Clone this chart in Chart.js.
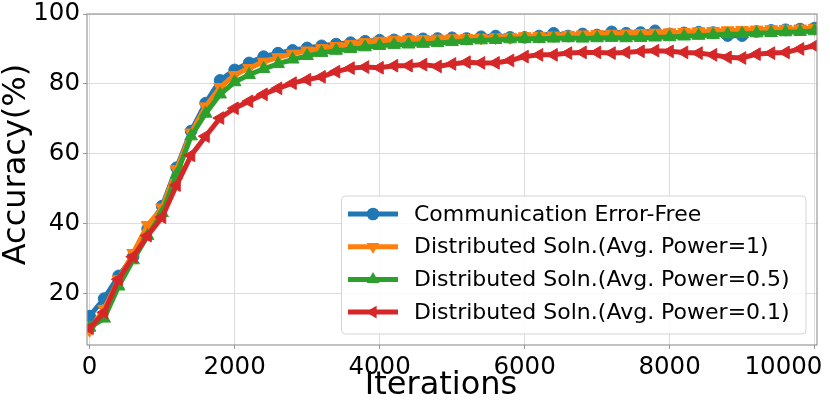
<!DOCTYPE html>
<html>
<head>
<meta charset="utf-8">
<script src="https://cdn.jsdelivr.net/npm/chart.js@4.4.0/dist/chart.umd.min.js"></script>
<style>
  html, body { margin: 0; padding: 0; background: #fff; }
  #wrap { width: 830px; height: 402px; }
</style>
</head>
<body>
<div id="wrap"><canvas id="chart" width="830" height="402"></canvas></div>
<script>
// values
const iterations = [0, 200, 400, 600, 800, 1000, 1200, 1400, 1600, 1800,
  2000, 2200, 2400, 2600, 2800, 3000, 3200, 3400, 3600, 3800,
  4000, 4200, 4400, 4600, 4800, 5000, 5200, 5400, 5600, 5800,
  6000, 6200, 6400, 6600, 6800, 7000, 7200, 7400, 7600, 7800,
  8000, 8200, 8400, 8600, 8800, 9000, 9200, 9400, 9600, 9800, 10000];

const errorFree = [13.5, 18.5, 25, 30.5, 38.5, 45, 56, 66.5, 74.5, 81,
  84, 86, 87.8, 88.8, 89.6, 90.3, 90.9, 91.4, 91.8, 92.2,
  92.5, 92.6, 92.8, 92.9, 93.0, 93.2, 93.0, 93.5, 93.7, 93.3,
  93.3, 93.7, 94.5, 93.7, 94.3, 94.0, 94.9, 94.5, 94.7, 95.2,
  94.3, 94.6, 94.8, 94.7, 93.8, 93.8, 95.0, 95.3, 95.5, 95.7, 96.0];

const power1 = [9.5, 15.5, 24, 31.5, 39.5, 44.5, 55.5, 66, 73.5, 79,
  82.5, 84.5, 86.3, 87.6, 88.6, 89.5, 90.2, 90.8, 91.4, 91.9,
  92.3, 92.6, 92.7, 92.8, 92.9, 93.0, 93.1, 93.2, 93.3, 93.4,
  93.6, 93.7, 93.8, 94.0, 94.1, 94.2, 94.3, 94.4, 94.5, 94.6,
  94.7, 94.8, 95.0, 95.1, 95.3, 95.4, 95.5, 95.6, 95.7, 95.8, 96.0];

const power05 = [10.2, 12.8, 22, 29.5, 36.5, 43, 54, 65, 71.5, 77,
  80.5, 82.6, 84.3, 85.7, 87.0, 88.0, 88.9, 89.5, 90.0, 90.5,
  90.9, 91.2, 91.3, 91.5, 91.7, 92.0, 92.3, 92.5, 92.6, 92.8,
  92.9, 92.9, 93.0, 93.1, 93.0, 93.1, 93.2, 93.1, 93.2, 93.3,
  93.4, 93.6, 93.8, 94.0, 94.2, 94.3, 94.5, 94.6, 94.8, 94.9, 95.1];

const power01 = [10, 14.5, 24, 30.5, 36.5, 41.8, 51, 59.5, 65, 70.2,
  73, 75, 77, 78.7, 80.2, 81.2, 82, 83.5, 84.5, 84.8,
  84.6, 85.2, 85.2, 85.5, 85.0, 85.7, 86.2, 86.0, 86.0, 86.7,
  87.8, 88.3, 88.3, 88.8, 89.0, 89.0, 88.8, 89.0, 89.3, 89.5,
  89.3, 89.0, 88.8, 88.3, 87.6, 87.4, 88.5, 88.8, 89.0, 90.0, 90.9];

const seriesLabels = [
  "Communication Error-Free",
  "Distributed Soln.(Avg. Power=1)",
  "Distributed Soln.(Avg. Power=0.5)",
  "Distributed Soln.(Avg. Power=0.1)"
];

const xTicks = [0, 2000, 4000, 6000, 8000, 10000];
const yTicks = [20, 40, 60, 80, 100];
const xTitle = "Iterations";
const yTitle = "Accuracy(%)";

const FONT = "'DejaVu Sans', sans-serif";
const colors = ["#1f77b4", "#ff7f0e", "#2ca02c", "#d62728"];
const shapes = [
  { style: "circle", rot: 0, r: 5.8 },
  { style: "triangle", rot: 180, r: 7.3 },
  { style: "triangle", rot: 0, r: 7.3 },
  { style: "triangle", rot: -90, r: 7.3 }
];

function pts(ys) {
  return iterations.map((x, i) => ({ x: x, y: ys[i] }));
}

const allSeries = [errorFree, power1, power05, power01];

const datasets = allSeries.map((ys, i) => ({
  label: seriesLabels[i],
  data: pts(ys),
  borderColor: colors[i],
  backgroundColor: colors[i],
  borderWidth: 5,
  pointStyle: shapes[i].style,
  rotation: shapes[i].rot,
  pointRadius: shapes[i].r,
  pointBorderWidth: 1,
  pointBackgroundColor: colors[i],
  pointBorderColor: colors[i],
  tension: 0,
  // last dataset on top, like matplotlib
  order: allSeries.length - 1 - i
}));

// draws marker shape for the legend
function marker(ctx, s, x, y) {
  ctx.beginPath();
  if (s.style === "circle") {
    ctx.arc(x, y, s.r + 0.5, 0, Math.PI * 2);
  } else {
    let a = s.rot * Math.PI / 180;
    for (let k = 0; k < 3; k++) {
      const px = x + Math.sin(a) * s.r;
      const py = y - Math.cos(a) * s.r;
      if (k === 0) ctx.moveTo(px, py); else ctx.lineTo(px, py);
      a += Math.PI * 2 / 3;
    }
    ctx.closePath();
  }
  ctx.fill();
}

const framePlugin = {
  id: "frame",
  afterDraw(chart) {
    const { ctx, chartArea: a } = chart;
    ctx.save();
    ctx.strokeStyle = "#9a9a9a";
    ctx.lineWidth = 1.2;
    ctx.strokeRect(a.left, a.top, a.right - a.left, a.bottom - a.top);

    // axis titles (sit a little off-centre in the reference)
    ctx.fillStyle = "#000";
    ctx.font = "32px " + FONT;
    ctx.textAlign = "center";
    ctx.textBaseline = "middle";
    ctx.fillText(xTitle, (a.left + a.right) / 2 - 11, 386);
    ctx.save();
    ctx.translate(17, (a.top + a.bottom) / 2 - 15);
    ctx.rotate(-Math.PI / 2);
    ctx.fillText(yTitle, 0, 0);
    ctx.restore();

    // legend, lower right
    const bx = 341.5, by = 196, bw = 464.5, bh = 138;
    ctx.fillStyle = "rgba(255,255,255,0.85)";
    ctx.strokeStyle = "#d5d5d5";
    ctx.lineWidth = 1;
    ctx.beginPath();
    ctx.roundRect(bx, by, bw, bh, 4);
    ctx.fill();
    ctx.stroke();

    ctx.font = "22px " + FONT;
    ctx.textBaseline = "middle";
    ctx.textAlign = "left";
    chart.data.datasets.forEach((ds, i) => {
      const cy = 214 + i * 32.7;
      ctx.strokeStyle = ds.borderColor;
      ctx.lineWidth = 5;
      ctx.beginPath();
      ctx.moveTo(348, cy);
      ctx.lineTo(398, cy);
      ctx.stroke();
      ctx.fillStyle = ds.borderColor;
      marker(ctx, shapes[i], 373, cy);
      ctx.fillStyle = "#000";
      ctx.fillText(ds.label, 414, cy + 1);
    });
    ctx.restore();
  }
};

new Chart(document.getElementById("chart"), {
  type: "line",
  data: { datasets: datasets },
  plugins: [framePlugin],
  options: {
    responsive: false,
    animation: false,
    devicePixelRatio: 1,
    layout: { padding: { left: 0, right: 13, top: 14, bottom: 0 } },
    plugins: { legend: { display: false }, tooltip: { enabled: false } },
    scales: {
      x: {
        type: "linear",
        min: -36,
        max: 10033,
        afterBuildTicks: (s) => { s.ticks = xTicks.map(v => ({ value: v })); },
        afterFit: (s) => {
          s.height = 57;
          s.paddingLeft = 0; s.paddingRight = 0;
        },
        ticks: {
          font: { family: FONT, size: 24.5 },
          color: "#000",
          padding: 4,
          maxRotation: 0,
          autoSkip: false,
          // last label sits shifted left in the reference
          callback: (v) => v === 10000 ? "10000        " : String(v)
        },
        grid: { color: "#dddddd", lineWidth: 1, tickLength: 4, tickColor: "#9a9a9a" },
        border: { display: false }
      },
      y: {
        min: 5.2,
        max: 100,
        afterBuildTicks: (s) => { s.ticks = yTicks.map(v => ({ value: v })); },
        afterFit: (s) => {
          s.width = 87;
          s.paddingTop = 0; s.paddingBottom = 0;
        },
        ticks: {
          font: { family: FONT, size: 24.5 },
          color: "#000",
          padding: 3
        },
        grid: { color: "#dddddd", lineWidth: 1, tickLength: 4, tickColor: "#9a9a9a" },
        border: { display: false }
      }
    }
  }
});
</script>
</body>
</html>
